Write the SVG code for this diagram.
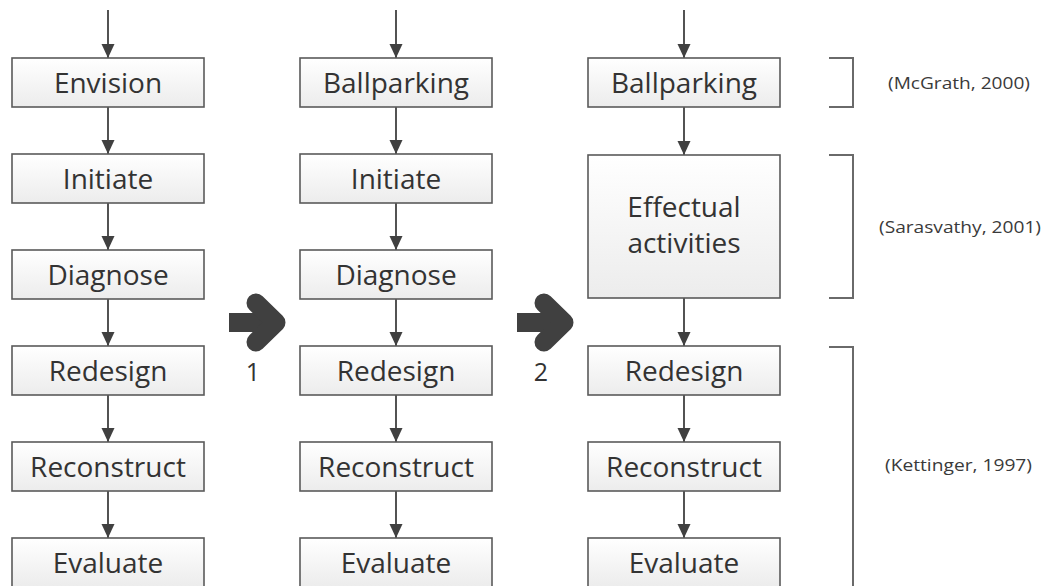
<svg xmlns="http://www.w3.org/2000/svg" width="1042" height="586" viewBox="0 0 1042 586">
<defs>
<linearGradient id="g" x1="0" y1="0" x2="0" y2="1">
<stop offset="0" stop-color="#ffffff"/>
<stop offset="1" stop-color="#ececec"/>
</linearGradient>
<marker id="ah" viewBox="0 0 14 14" refX="14" refY="7" markerWidth="14" markerHeight="14" markerUnits="userSpaceOnUse" orient="auto">
<path d="M0,0.5 L14,7 L0,13.5 z" fill="#404040"/>
</marker>
<g id="big">
<rect x="0" y="15" width="38" height="19" fill="#404040"/>
<polyline points="27,5 47,24.5 27,44" fill="none" stroke="#404040" stroke-width="19" stroke-linejoin="round" stroke-linecap="round"/>
</g>
</defs>
<style>
.box{fill:url(#g);stroke:#5a5a5a;stroke-width:1.6}
.t{font-family:"Open Sans","Noto Sans",sans-serif;font-size:28px;fill:#333;text-anchor:middle}
.lab{font-family:"Open Sans","Noto Sans",sans-serif;font-size:16px;fill:#3a3a3a}
.num{font-family:"Open Sans","Noto Sans",sans-serif;font-size:25px;fill:#333;text-anchor:middle}
.c{stroke:#404040;stroke-width:1.8;fill:none;marker-end:url(#ah)}
.br{stroke:#6a6a6a;stroke-width:2;fill:none}
</style>
<rect width="1042" height="586" fill="#ffffff"/>
<g id="connectors">
<line class="c" x1="108" y1="10" x2="108" y2="58"/>
<line class="c" x1="108" y1="107" x2="108" y2="154"/>
<line class="c" x1="108" y1="203" x2="108" y2="250"/>
<line class="c" x1="108" y1="299" x2="108" y2="346"/>
<line class="c" x1="108" y1="395" x2="108" y2="442"/>
<line class="c" x1="108" y1="491" x2="108" y2="538"/>
<line class="c" x1="396" y1="10" x2="396" y2="58"/>
<line class="c" x1="396" y1="107" x2="396" y2="154"/>
<line class="c" x1="396" y1="203" x2="396" y2="250"/>
<line class="c" x1="396" y1="299" x2="396" y2="346"/>
<line class="c" x1="396" y1="395" x2="396" y2="442"/>
<line class="c" x1="396" y1="491" x2="396" y2="538"/>
<line class="c" x1="684" y1="10" x2="684" y2="58"/>
<line class="c" x1="684" y1="107" x2="684" y2="155"/>
<line class="c" x1="684" y1="298" x2="684" y2="346"/>
<line class="c" x1="684" y1="395" x2="684" y2="442"/>
<line class="c" x1="684" y1="491" x2="684" y2="538"/>
</g>
<g id="c1-envision"><rect class="box" x="12" y="58" width="192" height="49"/><text class="t" x="108" y="92.5">Envision</text></g>
<g id="c1-initiate"><rect class="box" x="12" y="154" width="192" height="49"/><text class="t" x="108" y="188.5">Initiate</text></g>
<g id="c1-diagnose"><rect class="box" x="12" y="250" width="192" height="49"/><text class="t" x="108" y="284.5">Diagnose</text></g>
<g id="c1-redesign"><rect class="box" x="12" y="346" width="192" height="49"/><text class="t" x="108" y="380.5">Redesign</text></g>
<g id="c1-reconstruct"><rect class="box" x="12" y="442" width="192" height="49"/><text class="t" x="108" y="476.5">Reconstruct</text></g>
<g id="c1-evaluate"><rect class="box" x="12" y="538" width="192" height="49"/><text class="t" x="108" y="572.5">Evaluate</text></g>

<g id="c2-ballparking"><rect class="box" x="300" y="58" width="192" height="49"/><text class="t" x="396" y="92.5">Ballparking</text></g>
<g id="c2-initiate"><rect class="box" x="300" y="154" width="192" height="49"/><text class="t" x="396" y="188.5">Initiate</text></g>
<g id="c2-diagnose"><rect class="box" x="300" y="250" width="192" height="49"/><text class="t" x="396" y="284.5">Diagnose</text></g>
<g id="c2-redesign"><rect class="box" x="300" y="346" width="192" height="49"/><text class="t" x="396" y="380.5">Redesign</text></g>
<g id="c2-reconstruct"><rect class="box" x="300" y="442" width="192" height="49"/><text class="t" x="396" y="476.5">Reconstruct</text></g>
<g id="c2-evaluate"><rect class="box" x="300" y="538" width="192" height="49"/><text class="t" x="396" y="572.5">Evaluate</text></g>

<g id="c3-ballparking"><rect class="box" x="588" y="58" width="192" height="49"/><text class="t" x="684" y="92.5">Ballparking</text></g>
<g id="c3-effectual"><rect class="box" x="588" y="155" width="192" height="143"/><text class="t" x="684" y="217">Effectual</text><text class="t" x="684" y="253">activities</text></g>
<g id="c3-redesign"><rect class="box" x="588" y="346" width="192" height="49"/><text class="t" x="684" y="380.5">Redesign</text></g>
<g id="c3-reconstruct"><rect class="box" x="588" y="442" width="192" height="49"/><text class="t" x="684" y="476.5">Reconstruct</text></g>
<g id="c3-evaluate"><rect class="box" x="588" y="538" width="192" height="49"/><text class="t" x="684" y="572.5">Evaluate</text></g>

<g id="step1"><use href="#big" x="229" y="298"/><text class="num" x="253" y="381">1</text></g>
<g id="step2"><use href="#big" x="517" y="298"/><text class="num" x="541" y="381">2</text></g>

<g id="brackets">
<polyline class="br" points="829,58 853,58 853,107 829,107"/>
<polyline class="br" points="829,155 853,155 853,298 829,298"/>
<polyline class="br" points="829,347 853,347 853,590"/>
</g>
<g id="labels">
<text class="lab" x="888" y="89" textLength="142" lengthAdjust="spacingAndGlyphs">(McGrath, 2000)</text>
<text class="lab" x="879" y="233" textLength="162" lengthAdjust="spacingAndGlyphs">(Sarasvathy, 2001)</text>
<text class="lab" x="885" y="471" textLength="147" lengthAdjust="spacingAndGlyphs">(Kettinger, 1997)</text>
</g>
</svg>
